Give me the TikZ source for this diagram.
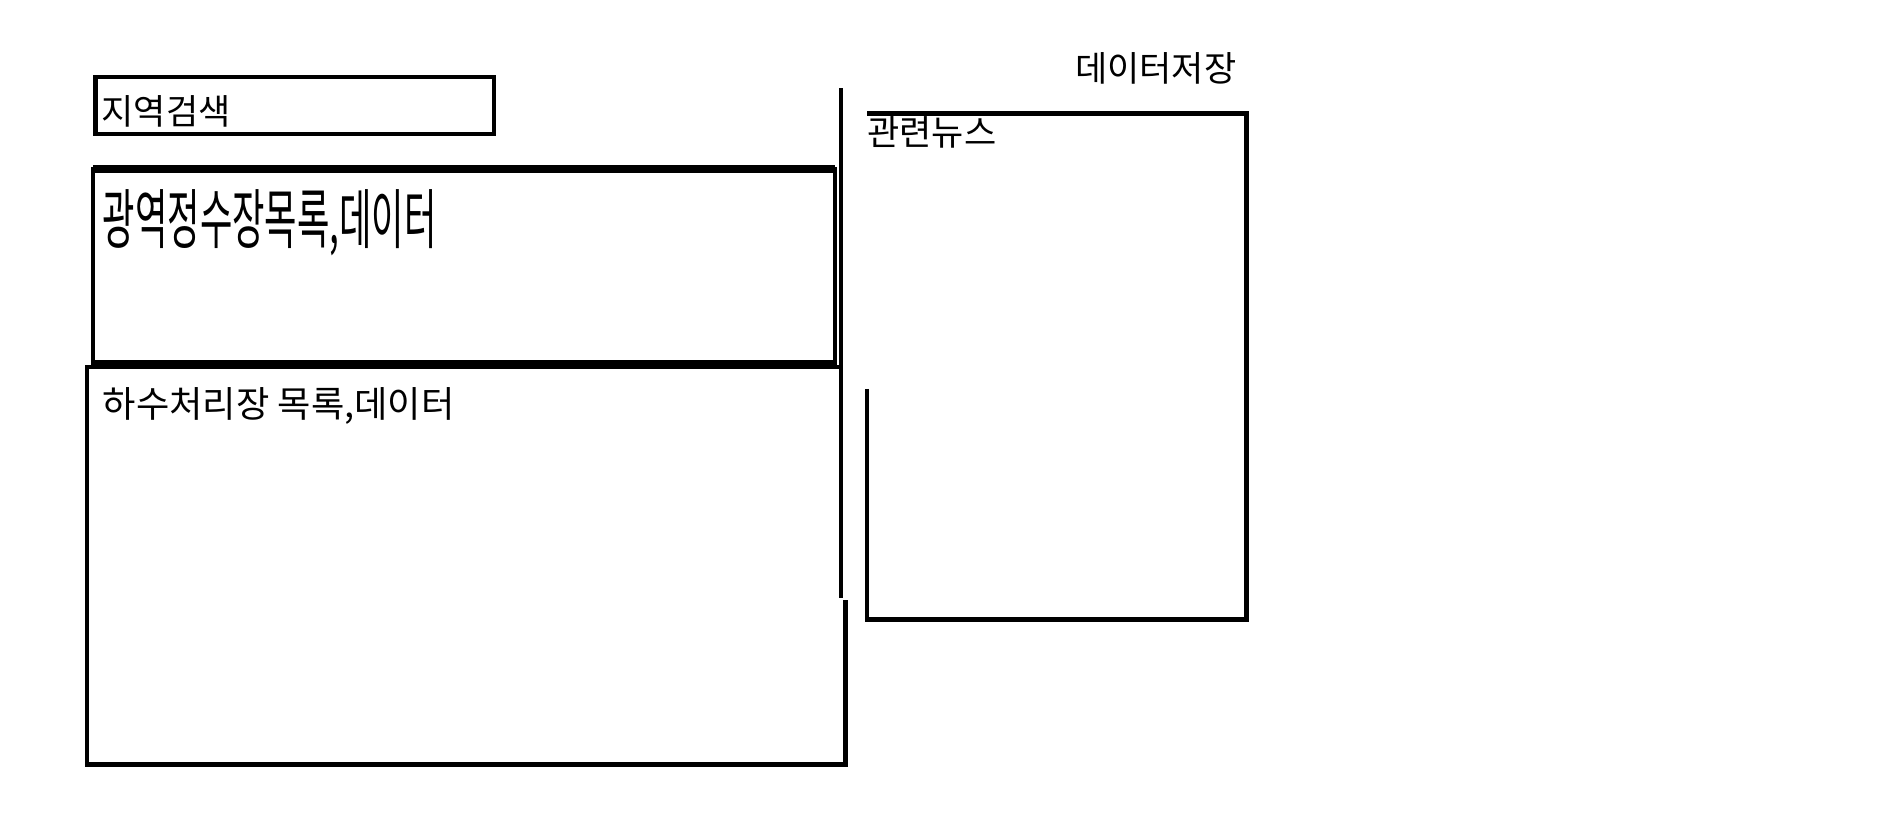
\documentclass[tikz,border=0pt]{standalone}
\usepackage{fontspec}
\setmainfont{Noto Sans CJK KR}
\usepackage{xcolor}
\usepackage{tikz}
\definecolor{ink}{HTML}{000000}
\definecolor{paper}{HTML}{FFFFFF}
\tikzset{
  frame/.style={line width=3.6pt, color=ink},
  heavyframe/.style={line width=6pt, color=ink},
  caption/.style={anchor=west, inner sep=0pt, font=\fontsize{29}{29}\selectfont},
}

\begin{document}
\begin{tikzpicture}[x=1pt, y=-1pt]
% page, pixel-like units with y going down
\fill[paper] (0,0) rectangle (1568,679);
\useasboundingbox (0,0) rectangle (1568,679);

% layout some coordinates for the panels
\coordinate (SearchNW) at (79,64);
\coordinate (SearchSE) at (409,111);
\coordinate (PlantNW) at (77,140);
\coordinate (PlantNE) at (691,140);
\coordinate (PlantSE) at (691,301);
\coordinate (PlantSW) at (77,301);
\coordinate (SplitTop) at (696,73);
\coordinate (SplitEnd) at (696,495);
\coordinate (NewsTL) at (718,94);
\coordinate (NewsTR) at (1032,94);
\coordinate (NewsBR) at (1032,513);
\coordinate (NewsBL) at (718,513);
\coordinate (NewsGap) at (718,322);

\draw[frame] (SearchNW) rectangle (SearchSE);
\draw[frame] (PlantNW) rectangle (PlantSE);
\draw[heavyframe] (PlantNW) -- (PlantNE);
\draw[heavyframe] (PlantSW) -- (PlantSE);
\draw[frame] (SplitTop) -- (SplitEnd);
\draw[frame] (696,304) -- (72,304) -- (72,633) -- (700,633) -- (700,497);
\draw[frame] (NewsGap) -- (NewsBL) -- (NewsBR) -- (NewsTR) -- (NewsTL);

\node[caption] (search) at (84,92) {지역검색};
\node[caption, font=\fontsize{54}{54}\selectfont] (plant) at (85,184)
     {\scalebox{0.54}[1]{광역정수장목록,데이터}};
\node[caption, font=\fontsize{30}{30}\selectfont] (sewage) at (85,336)
     {하수처리장 목록,데이터};
\node[caption] (news) at (718,110) {관련뉴스};
\node[caption] (store) at (890,57) {데이터저장};

\end{tikzpicture}
\end{document}
